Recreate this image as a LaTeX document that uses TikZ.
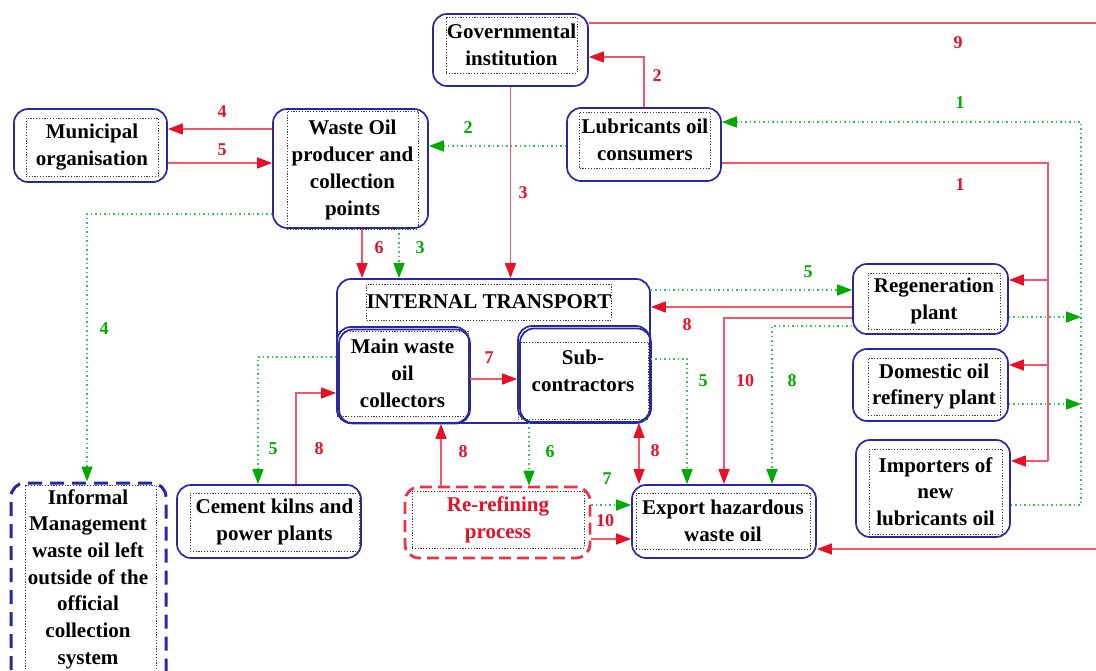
\documentclass[tikz,border=0pt]{standalone}
\usepackage{fontspec}
\setmainfont{Liberation Serif}
\usetikzlibrary{arrows.meta}
\definecolor{bblue}{RGB}{40,40,165}
\definecolor{redline}{RGB}{245,85,105}
\definecolor{redhead}{RGB}{232,16,40}
\definecolor{greenline}{RGB}{40,205,90}
\definecolor{greenhead}{RGB}{0,170,0}
\tikzset{
 ob/.style={draw=bblue, line width=1.7pt, rounded corners=14pt, inner sep=0pt},
 ib/.style={draw=black!75, dash pattern=on 1.2pt off 1.6pt, line width=0.9pt, inner sep=0pt, align=center, font=\bfseries\fontsize{21}{26.7}\selectfont},
 tx/.style={inner sep=0pt, align=center, font=\bfseries\fontsize{21}{26.7}\selectfont},
 rl/.style={draw=redline, line width=1.6pt},
 gl/.style={draw=greenline, line width=1.6pt, dash pattern=on 1.5pt off 3pt},
 ra/.style={-{Triangle[length=15pt,width=11pt,color=redhead]}},
 rra/.style={{Triangle[length=15pt,width=11pt,color=redhead]}-{Triangle[length=15pt,width=11pt,color=redhead]}},
 ga/.style={-{Triangle[length=15pt,width=11pt,color=greenhead]}},
 rn/.style={text=redhead, inner sep=0pt, font=\bfseries\fontsize{18}{18}\selectfont},
 gn/.style={text=greenhead, inner sep=0pt, font=\bfseries\fontsize{18}{18}\selectfont},
}
\begin{document}
\begin{tikzpicture}[x=1pt,y=-1pt]
\useasboundingbox (0,0) rectangle (1096,671);
\clip (0,0) rectangle (1096,671);
% outer boxes
\node[ob, minimum width=155pt, minimum height=72pt] (gov) at (510.5,50) {};
\node[ob, minimum width=153pt, minimum height=73pt] (mun) at (90.5,145.5) {};
\node[ob, minimum width=155pt, minimum height=119pt] (wop) at (350.5,168.5) {};
\node[ob, minimum width=154pt, minimum height=73pt] (lub) at (644,144.5) {};
\node[ob, minimum width=155pt, minimum height=70pt] (reg) at (930.5,299) {};
\node[ob, minimum width=155pt, minimum height=72pt] (dom) at (930.5,385) {};
\node[ob, minimum width=154pt, minimum height=97pt] (imp) at (933,488.5) {};
\node[ob, minimum width=313pt, minimum height=144pt] (it) at (493.5,351) {};
\node[ob, minimum width=131pt, minimum height=94pt] (mwc2) at (404.5,376.5) {};
\node[ob, minimum width=132pt, minimum height=96pt] (mwc) at (403,375) {};
\node[ob, minimum width=131pt, minimum height=94pt] (sub2) at (585.5,375.5) {};
\node[ob, minimum width=132pt, minimum height=96pt] (sub) at (584,374) {};
\node[ob, draw=bblue, line width=3pt, dash pattern=on 14pt off 8pt, minimum width=155pt, minimum height=220pt] (inf) at (88.5,593) {};
\node[ob, minimum width=184pt, minimum height=73pt] (cem) at (269,521.5) {};
\node[ob, draw=redhead!85, line width=2.8pt, dash pattern=on 12pt off 6pt, minimum width=185pt, minimum height=71pt] (rer) at (497.5,522.5) {};
\node[ob, minimum width=184pt, minimum height=73pt] (exp) at (724,521.5) {};
% inner frames with text
\node[ib, minimum width=131pt, minimum height=56pt] (govt) at (511.5,45) {Governmental\\institution};
\node[ib, minimum width=132pt, minimum height=58pt] (munt) at (92,147) {Municipal\\organisation};
\node[ib, minimum width=131pt, minimum height=118pt] (wopt) at (352.5,170) {Waste Oil\\producer and\\collection\\points};
\node[ib, minimum width=131pt, minimum height=56pt] (lubt) at (645,140) {Lubricants oil\\consumers};
\node[ib, minimum width=132pt, minimum height=56pt] (regt) at (934,301) {Regeneration\\plant};
\node[ib, minimum width=132pt, minimum height=57pt] (domt) at (934,386.5) {Domestic oil\\refinery plant};
\node[ib, minimum width=133pt, minimum height=85pt] (impt) at (935.5,491.5) {Importers of\\new\\lubricants oil};
\node[ib, minimum width=244pt, minimum height=36pt] (itt) at (489,302) {INTERNAL TRANSPORT};
\node[ib, minimum width=131pt, minimum height=85pt] (mwct) at (402.5,373.5) {Main waste\\oil\\collectors};
\node[ib, minimum width=130pt, minimum height=77pt] (subf) at (583,380.5) {};
\node[tx] (subt) at (583,370.5) {Sub-\\contractors};
\node[ib, minimum width=131pt, minimum height=210pt] (inff) at (90.5,590) {};
\node[tx] (inft) at (88,579) {Informal\\Management\\waste oil left\\outside of the\\official\\collection\\system};
\node[ib, minimum width=169pt, minimum height=58pt] (cemt) at (274.5,522) {Cement kilns and\\power plants};
\node[ib, text=redhead, minimum width=172pt, minimum height=57pt] (rert) at (498,519.5) {Re-refining\\process};
\node[ib, minimum width=174pt, minimum height=56pt] (expt) at (723,521) {Export hazardous\\waste oil};
% free ends
\coordinate (e9a) at (1096,23);
\coordinate (e9b) at (1096,549);
% red connectors
\draw[rl] (gov.east |- 0,23) -- (e9a);
\draw[rl,ra] (e9b) -- (exp.east |- 0,549);
\draw[rl,ra] (lub.north) |- (gov.east |- 0,57);
\draw[rl,ra] (gov.south) -- (it.north -| gov.south);
\draw[rl,ra] (wop.west |- 0,129) -- (mun.east |- 0,129);
\draw[rl,ra] (mun.east |- 0,163) -- (wop.west |- 0,163);
\draw[rl,ra] (wop.south -| 362,0) -- (it.north -| 362,0);
\draw[rl] (lub.east |- 0,163) -- (1048,163) -- (1048,461);
\draw[rl,ra] (1048,280) -- (reg.east |- 0,280);
\draw[rl,ra] (1048,365) -- (dom.east |- 0,365);
\draw[rl,ra] (1048,461) -- (imp.east |- 0,461);
\draw[rl,ra] (reg.west |- 0,307) -- (it.east |- 0,307);
\draw[rl,ra] (reg.west |- 0,318) -| (exp.north -| 724,0);
\draw[rl,ra] (mwc.east |- 0,379) -- (sub.west |- 0,379);
\draw[rl,ra] (cem.north -| 296,0) |- (mwc.west |- 0,393);
\draw[rl,ra] (rer.north -| 441,0) -- (mwc.south -| 441,0);
\draw[rl,rra] (sub.south -| 639,0) -- (exp.north -| 639,0);
\draw[rl,ra] (rer.east |- 0,539) -- (exp.west |- 0,539);
% green connectors
\draw[gl,ga] (lub.west |- 0,146) -- (wop.east |- 0,146);
\draw[gl,ga] (wop.west |- 0,214) -| (inf.north -| 87,0);
\draw[gl,ga] (wop.south -| 399,0) -- (it.north -| 399,0);
\draw[gl,ga] (imp.east |- 0,505) -| (1081,122) -- (lub.east |- 0,122);
\draw[gl,ga] (reg.east |- 0,317) -- (1081,317);
\draw[gl,ga] (dom.east |- 0,404) -- (1081,404);
\draw[gl,ga] (it.east |- 0,290) -- (reg.west |- 0,290);
\draw[gl,ga] (reg.west |- 0,326) -| (exp.north -| 772,0);
\draw[gl,ga] (sub.east |- 0,359) -| (exp.north -| 687,0);
\draw[gl,ga] (mwc.west |- 0,357) -| (cem.north -| 258,0);
\draw[gl,ga] (sub.south -| 529,0) -- (rer.north -| 529,0);
\draw[gl,ga] (rer.east |- 0,505) -- (exp.west |- 0,505);
% labels
\node[rn] (n9) at (958,43) {9};
\node[rn] (n2r) at (657,76) {2};
\node[rn] (n3r) at (523,193) {3};
\node[rn] (n4r) at (222,112) {4};
\node[rn] (n5r) at (222,150) {5};
\node[rn] (n1r) at (960,185) {1};
\node[rn] (n6r) at (379,248) {6};
\node[rn] (n8a) at (687,325) {8};
\node[rn] (n10a) at (745,381) {10};
\node[rn] (n7r) at (489,358) {7};
\node[rn] (n8b) at (319,449) {8};
\node[rn] (n8c) at (463,452) {8};
\node[rn] (n8d) at (655,451) {8};
\node[rn] (n10b) at (605,521) {10};
\node[gn] (n1g) at (960,103) {1};
\node[gn] (n2g) at (468,128) {2};
\node[gn] (n4g) at (104,329) {4};
\node[gn] (n3g) at (420,248) {3};
\node[gn] (n5a) at (808,272) {5};
\node[gn] (n8g) at (792,381) {8};
\node[gn] (n5b) at (703,381) {5};
\node[gn] (n5c) at (273,449) {5};
\node[gn] (n6g) at (550,452) {6};
\node[gn] (n7g) at (607,479) {7};
\end{tikzpicture}
\end{document}
